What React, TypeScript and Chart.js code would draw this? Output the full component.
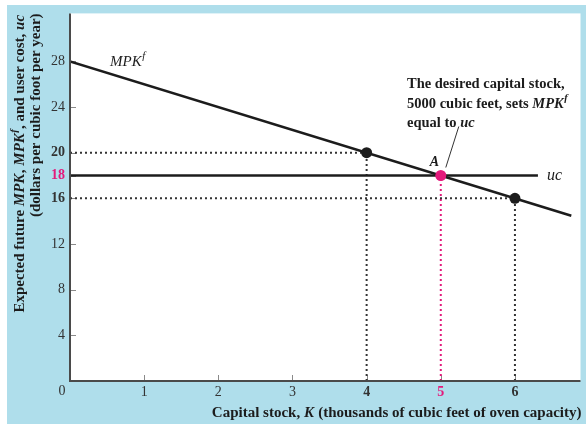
import React, { useEffect, useRef } from "react";
import { Chart, registerables } from "chart.js";
Chart.register(...registerables);

// ---- data ----
const xTicks = [1, 2, 3, 4, 5, 6];
const yTicks = [4, 8, 12, 16, 18, 20, 24, 28];
const boldX = [4, 5, 6];
const boldY = [16, 18, 20];
const highlightX = 5;
const highlightY = 18;

const mpkK = [0, 6.76];
const mpkValues = [28, 14.48];
const ucK = [0, 6.31];
const ucValues = [18, 18];
const pointK = [4, 6];
const pointValues = [20, 16];
const eqK = [5];
const eqValues = [18];

const X_MAX = 6.884;
const Y_MAX = 32.2;

// ---- style ----
const PINK = "#e3197b";
const BLUE = "#afdeeb";
const INK = "#1c1c1c";
const TICK_INK = "#333333";
const SERIF = '"Liberation Serif", "Times New Roman", serif';

type Seg = { t: string; i?: boolean; sup?: boolean };

function fontStr(size: number, bold: boolean, italic: boolean) {
  return `${italic ? "italic " : ""}${bold ? "bold " : ""}${size}px ${SERIF}`;
}

function drawRich(
  ctx: CanvasRenderingContext2D,
  segs: Seg[],
  x: number,
  y: number,
  size: number,
  bold: boolean,
  align: "left" | "right" | "center",
  color: string
) {
  ctx.save();
  ctx.textBaseline = "middle";
  ctx.textAlign = "left";
  ctx.fillStyle = color;
  let total = 0;
  const widths = segs.map((s) => {
    ctx.font = fontStr(s.sup ? size * 0.72 : size, bold, !!s.i);
    const w = ctx.measureText(s.t).width + (s.i && !s.sup ? 0.5 : 0);
    total += w;
    return w;
  });
  let cx = align === "left" ? x : align === "right" ? x - total : x - total / 2;
  segs.forEach((s, idx) => {
    ctx.font = fontStr(s.sup ? size * 0.72 : size, bold, !!s.i);
    ctx.fillText(s.t, cx, s.sup ? y - size * 0.38 : y);
    cx += widths[idx];
  });
  ctx.restore();
}

const decorPlugin = {
  id: "decor",
  beforeDraw(chart: any) {
    const { ctx, chartArea: a, width, height } = chart;
    ctx.save();
    ctx.fillStyle = "#ffffff";
    ctx.fillRect(0, 0, width, height);
    ctx.fillStyle = BLUE;
    ctx.fillRect(7, 5, width - 7, height - 5);
    ctx.fillStyle = "#ffffff";
    ctx.fillRect(a.left, a.top, a.right - a.left, a.bottom - a.top);
    ctx.restore();
  },
  beforeDatasetsDraw(chart: any) {
    const { ctx, chartArea: a } = chart;
    const xs = chart.scales.x;
    const ys = chart.scales.y;
    ctx.save();
    // inside tick marks
    ctx.strokeStyle = "#8a8a8a";
    ctx.lineWidth = 1;
    yTicks.forEach((v) => {
      const py = Math.round(ys.getPixelForValue(v)) + 0.5;
      ctx.beginPath();
      ctx.moveTo(a.left, py);
      ctx.lineTo(a.left + 6, py);
      ctx.stroke();
    });
    xTicks.forEach((v) => {
      const px = Math.round(xs.getPixelForValue(v)) + 0.5;
      ctx.beginPath();
      ctx.moveTo(px, a.bottom);
      ctx.lineTo(px, a.bottom - 6);
      ctx.stroke();
    });
    ctx.restore();
  },
  afterDraw(chart: any) {
    const { ctx, chartArea: a } = chart;
    const xs = chart.scales.x;
    const ys = chart.scales.y;
    ctx.save();
    // axes
    ctx.strokeStyle = "#4a4a4a";
    ctx.lineWidth = 2;
    ctx.beginPath();
    ctx.moveTo(a.left, a.top);
    ctx.lineTo(a.left, a.bottom);
    ctx.lineTo(a.right, a.bottom);
    ctx.stroke();

    // origin label
    ctx.font = fontStr(14, false, false);
    ctx.fillStyle = TICK_INK;
    ctx.textAlign = "center";
    ctx.textBaseline = "middle";
    ctx.fillText("0", xs.getPixelForValue(0) - 8, a.bottom + 10);

    // x axis title
    drawRich(
      ctx,
      [{ t: "Capital stock, " }, { t: "K", i: true }, { t: " (thousands of cubic feet of oven capacity)" }],
      a.right + 1,
      a.bottom + 32,
      15,
      true,
      "right",
      INK
    );

    // y axis title (rotated)
    ctx.save();
    ctx.translate(20, a.top + 1);
    ctx.rotate(-Math.PI / 2);
    drawRich(
      ctx,
      [
        { t: "Expected future " },
        { t: "MPK", i: true },
        { t: ", " },
        { t: "MPK", i: true },
        { t: "f", i: true, sup: true },
        { t: ", and user cost, " },
        { t: "uc", i: true },
      ],
      0,
      0,
      15,
      true,
      "right",
      INK
    );
    ctx.restore();
    ctx.save();
    ctx.translate(36, a.top);
    ctx.rotate(-Math.PI / 2);
    drawRich(ctx, [{ t: "(dollars per cubic foot per year)" }], 0, 0, 15, true, "right", INK);
    ctx.restore();

    // curve labels
    drawRich(
      ctx,
      [{ t: "MPK", i: true }, { t: "f", i: true, sup: true }],
      xs.getPixelForValue(mpkK[0]) + 40,
      ys.getPixelForValue(mpkValues[0]) + 1,
      15,
      false,
      "left",
      INK
    );
    drawRich(
      ctx,
      [{ t: "uc", i: true }],
      xs.getPixelForValue(ucK[1]) + 9,
      ys.getPixelForValue(ucValues[1]),
      16,
      false,
      "left",
      INK
    );

    // equilibrium annotation
    const ex = xs.getPixelForValue(eqK[0]);
    const ey = ys.getPixelForValue(eqValues[0]);
    drawRich(ctx, [{ t: "A", i: true }], ex - 6, ey - 13, 14, true, "center", INK);
    ctx.strokeStyle = "#333";
    ctx.lineWidth = 1;
    ctx.beginPath();
    ctx.moveTo(ex + 5, ey - 8);
    ctx.lineTo(ex + 18, ey - 49);
    ctx.stroke();

    const tx = 407;
    drawRich(ctx, [{ t: "The desired capital stock," }], tx, 84, 14.5, true, "left", INK);
    drawRich(
      ctx,
      [{ t: "5000 cubic feet, sets " }, { t: "MPK", i: true }, { t: "f", i: true, sup: true }],
      tx,
      104,
      14.5,
      true,
      "left",
      INK
    );
    drawRich(ctx, [{ t: "equal to " }, { t: "uc", i: true }], tx, 123, 14.5, true, "left", INK);
    ctx.restore();
  },
};

function seg(kx: number[], vy: number[]) {
  return kx.map((k, i) => ({ x: k, y: vy[i] }));
}

export default function App() {
  const ref = useRef<HTMLCanvasElement | null>(null);
  useEffect(() => {
    document.body.style.margin = "0";
    const canvas = ref.current;
    if (!canvas) return;

    const guides: any[] = [];
    pointK.forEach((k, i) => {
      const v = pointValues[i];
      guides.push({
        data: [{ x: 0, y: v }, { x: k, y: v }],
        borderColor: "#333",
      });
      guides.push({
        data: [{ x: k, y: 0 }, { x: k, y: v }],
        borderColor: "#333",
      });
    });
    eqK.forEach((k, i) => {
      guides.push({
        data: [{ x: k, y: 0 }, { x: k, y: eqValues[i] }],
        borderColor: PINK,
      });
    });

    const datasets: any[] = [
      {
        data: seg(pointK, pointValues),
        showLine: false,
        pointRadius: 5.5,
        pointBackgroundColor: INK,
        pointBorderWidth: 0,
        order: 0,
      },
      {
        data: seg(eqK, eqValues),
        showLine: false,
        pointRadius: 5.5,
        pointBackgroundColor: PINK,
        pointBorderWidth: 0,
        order: 0,
      },
      {
        data: seg(mpkK, mpkValues),
        showLine: true,
        borderColor: INK,
        borderWidth: 2.5,
        pointRadius: 0,
        order: 1,
      },
      {
        data: seg(ucK, ucValues),
        showLine: true,
        borderColor: INK,
        borderWidth: 2.5,
        pointRadius: 0,
        order: 1,
      },
      ...guides.map((g) => ({
        ...g,
        showLine: true,
        borderWidth: 2,
        borderDash: [2, 3],
        pointRadius: 0,
        order: 2,
      })),
    ];

    const chart = new Chart(canvas, {
      type: "scatter",
      data: { datasets },
      plugins: [decorPlugin],
      options: {
        responsive: false,
        animation: false,
        events: [],
        layout: { padding: { top: 13, right: 2, left: 0, bottom: 0 } },
        plugins: { legend: { display: false }, tooltip: { enabled: false } },
        scales: {
          x: {
            type: "linear",
            min: 0,
            max: X_MAX,
            grid: { display: false, drawTicks: false },
            border: { display: false },
            afterBuildTicks: (s: any) => {
              s.ticks = xTicks.map((v) => ({ value: v }));
            },
            afterFit: (s: any) => {
              s.height = 43;
            },
            ticks: {
              padding: 3,
              autoSkip: false,
              maxRotation: 0,
              color: (c: any) => (c.tick && c.tick.value === highlightX ? PINK : TICK_INK),
              font: (c: any) => ({
                family: SERIF,
                size: 14,
                weight: c.tick && boldX.includes(c.tick.value) ? "bold" : "normal",
              }),
              callback: (v: any) => String(v),
            },
          },
          y: {
            type: "linear",
            min: 0,
            max: Y_MAX,
            grid: { display: false, drawTicks: false },
            border: { display: false },
            afterBuildTicks: (s: any) => {
              s.ticks = yTicks.map((v) => ({ value: v }));
            },
            afterFit: (s: any) => {
              s.width = 70;
            },
            ticks: {
              padding: 5,
              autoSkip: false,
              color: (c: any) => (c.tick && c.tick.value === highlightY ? PINK : TICK_INK),
              font: (c: any) => ({
                family: SERIF,
                size: 14,
                weight: c.tick && boldY.includes(c.tick.value) ? "bold" : "normal",
              }),
              callback: (v: any) => String(v),
            },
          },
        },
      },
    } as any);
    return () => chart.destroy();
  }, []);

  return (
    <div style={{ width: 586, height: 424 }}>
      <canvas ref={ref} width={586} height={424} style={{ display: "block" }} />
    </div>
  );
}
